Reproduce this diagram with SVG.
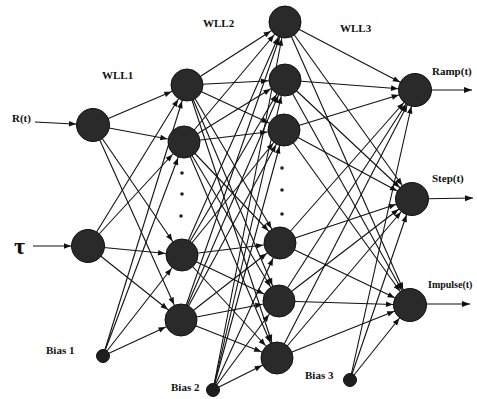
<svg xmlns="http://www.w3.org/2000/svg" width="477" height="399" viewBox="0 0 477 399">
<style>
.c line{stroke:#111;stroke-width:1.1;fill:none;marker-end:url(#ah)}
.n{fill:#2a2a2a;stroke:#111;stroke-width:1}
.b{fill:#1e1e1e;stroke:#111;stroke-width:1}
.d{fill:#222}
text{font-family:"Liberation Serif",serif;font-weight:bold;font-size:11px;fill:#111}
.o{stroke:#111;stroke-width:1.3;marker-end:url(#ao)}
</style>
<defs>
<marker id="ah" markerUnits="userSpaceOnUse" viewBox="0 0 30 8" markerWidth="30" markerHeight="8" refX="27" refY="4" orient="auto">
<path d="M3,1.2 L10,4 L3,6.8 z" fill="#111"/>
</marker>
<marker id="ao" markerUnits="userSpaceOnUse" viewBox="0 0 10 8" markerWidth="10" markerHeight="8" refX="10" refY="4" orient="auto">
<path d="M2,1 L10,4 L2,7 z" fill="#111"/>
</marker>
</defs>
<rect width="477" height="399" fill="#fff"/>
<g id="connectors" class="c">
<line x1="35" y1="122" x2="93" y2="125"/>
<line x1="33" y1="246" x2="88" y2="246"/>
<line x1="93" y1="125" x2="187" y2="85"/>
<line x1="93" y1="125" x2="184" y2="142"/>
<line x1="93" y1="125" x2="182" y2="255"/>
<line x1="93" y1="125" x2="181" y2="320"/>
<line x1="88" y1="246" x2="187" y2="85"/>
<line x1="88" y1="246" x2="184" y2="142"/>
<line x1="88" y1="246" x2="182" y2="255"/>
<line x1="88" y1="246" x2="181" y2="320"/>
<line x1="103" y1="356" x2="187" y2="85"/>
<line x1="103" y1="356" x2="184" y2="142"/>
<line x1="103" y1="356" x2="182" y2="255"/>
<line x1="103" y1="356" x2="181" y2="320"/>
<line x1="187" y1="85" x2="285" y2="22"/>
<line x1="187" y1="85" x2="285" y2="80"/>
<line x1="187" y1="85" x2="284" y2="130"/>
<line x1="187" y1="85" x2="280" y2="243"/>
<line x1="187" y1="85" x2="279" y2="301"/>
<line x1="187" y1="85" x2="277" y2="358"/>
<line x1="184" y1="142" x2="285" y2="22"/>
<line x1="184" y1="142" x2="285" y2="80"/>
<line x1="184" y1="142" x2="284" y2="130"/>
<line x1="184" y1="142" x2="280" y2="243"/>
<line x1="184" y1="142" x2="279" y2="301"/>
<line x1="184" y1="142" x2="277" y2="358"/>
<line x1="182" y1="255" x2="285" y2="22"/>
<line x1="182" y1="255" x2="285" y2="80"/>
<line x1="182" y1="255" x2="284" y2="130"/>
<line x1="182" y1="255" x2="280" y2="243"/>
<line x1="182" y1="255" x2="279" y2="301"/>
<line x1="182" y1="255" x2="277" y2="358"/>
<line x1="181" y1="320" x2="285" y2="22"/>
<line x1="181" y1="320" x2="285" y2="80"/>
<line x1="181" y1="320" x2="284" y2="130"/>
<line x1="181" y1="320" x2="280" y2="243"/>
<line x1="181" y1="320" x2="279" y2="301"/>
<line x1="181" y1="320" x2="277" y2="358"/>
<line x1="213" y1="390" x2="285" y2="22"/>
<line x1="213" y1="390" x2="285" y2="80"/>
<line x1="213" y1="390" x2="284" y2="130"/>
<line x1="213" y1="390" x2="280" y2="243"/>
<line x1="213" y1="390" x2="279" y2="301"/>
<line x1="213" y1="390" x2="277" y2="358"/>
<line x1="285" y1="22" x2="415" y2="90"/>
<line x1="285" y1="22" x2="412" y2="199"/>
<line x1="285" y1="22" x2="410" y2="305"/>
<line x1="285" y1="80" x2="415" y2="90"/>
<line x1="285" y1="80" x2="412" y2="199"/>
<line x1="285" y1="80" x2="410" y2="305"/>
<line x1="284" y1="130" x2="415" y2="90"/>
<line x1="284" y1="130" x2="412" y2="199"/>
<line x1="284" y1="130" x2="410" y2="305"/>
<line x1="280" y1="243" x2="415" y2="90"/>
<line x1="280" y1="243" x2="412" y2="199"/>
<line x1="280" y1="243" x2="410" y2="305"/>
<line x1="279" y1="301" x2="415" y2="90"/>
<line x1="279" y1="301" x2="412" y2="199"/>
<line x1="279" y1="301" x2="410" y2="305"/>
<line x1="277" y1="358" x2="415" y2="90"/>
<line x1="277" y1="358" x2="412" y2="199"/>
<line x1="277" y1="358" x2="410" y2="305"/>
<line x1="350" y1="380" x2="415" y2="90"/>
<line x1="350" y1="380" x2="412" y2="199"/>
<line x1="350" y1="380" x2="410" y2="305"/>
<line class="o" x1="415" y1="90" x2="472" y2="90" style="marker-end:url(#ao)"/>
<line class="o" x1="412" y1="199" x2="473" y2="198" style="marker-end:url(#ao)"/>
<line class="o" x1="410" y1="304" x2="470" y2="304" style="marker-end:url(#ao)"/>
</g>
<g id="in-r"><circle class="n" cx="93" cy="125" r="16.5"/><text x="12" y="122">R(t)</text></g>
<g id="in-tau"><circle class="n" cx="88" cy="246" r="16.5"/><text x="14" y="254" style="font-size:24px">τ</text></g>
<g id="h1a"><circle class="n" cx="187" cy="85" r="16"/></g>
<g id="h1b"><circle class="n" cx="184" cy="142" r="16"/></g>
<g id="h1dots"><circle class="d" cx="182" cy="173" r="1.8"/><circle class="d" cx="182" cy="194" r="1.8"/><circle class="d" cx="181" cy="216" r="1.8"/></g>
<g id="h1c"><circle class="n" cx="182" cy="255" r="16"/></g>
<g id="h1d"><circle class="n" cx="181" cy="320" r="16"/></g>
<g id="h2a"><circle class="n" cx="285" cy="22" r="16"/></g>
<g id="h2b"><circle class="n" cx="285" cy="80" r="16"/></g>
<g id="h2c"><circle class="n" cx="284" cy="130" r="16"/></g>
<g id="h2dots"><circle class="d" cx="282" cy="168" r="1.8"/><circle class="d" cx="282" cy="190" r="1.8"/><circle class="d" cx="282" cy="214" r="1.8"/></g>
<g id="h2d"><circle class="n" cx="280" cy="243" r="16"/></g>
<g id="h2e"><circle class="n" cx="279" cy="301" r="16"/></g>
<g id="h2f"><circle class="n" cx="277" cy="358" r="16"/></g>
<g id="out-ramp"><circle class="n" cx="415" cy="90" r="16.5"/><text x="432" y="75">Ramp(t)</text></g>
<g id="out-step"><circle class="n" cx="412" cy="199" r="16.5"/><text x="432" y="182">Step(t)</text></g>
<g id="out-impulse"><circle class="n" cx="410" cy="305" r="16.5"/><text x="428" y="288" style="font-size:10px">Impulse(t)</text></g>
<g id="bias1"><circle class="b" cx="103" cy="356" r="6.5"/><text x="46" y="354">Bias 1</text></g>
<g id="bias2"><circle class="b" cx="213" cy="390" r="6.5"/><text x="171" y="391">Bias 2</text></g>
<g id="bias3"><circle class="b" cx="350" cy="380" r="6.5"/><text x="305" y="379">Bias 3</text></g>
<g id="labels"><text x="102" y="79">WLL1</text><text x="203" y="27">WLL2</text><text x="340" y="32">WLL3</text></g>
</svg>
